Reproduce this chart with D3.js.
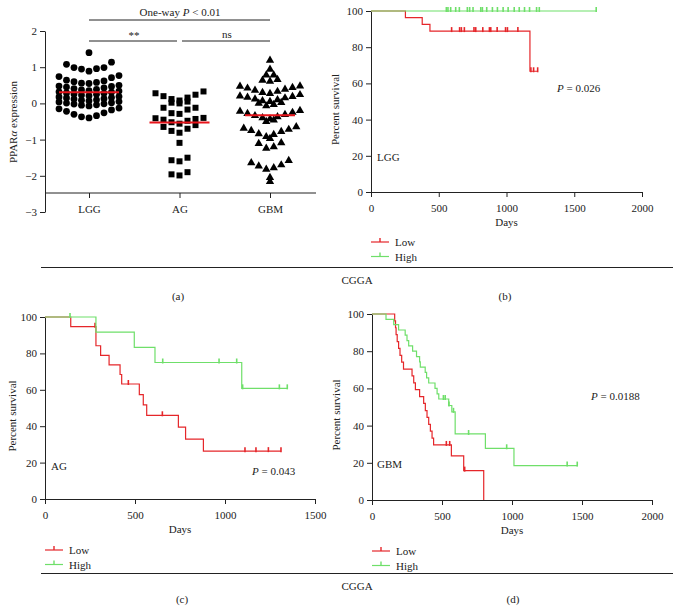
<!DOCTYPE html>
<html><head><meta charset="utf-8">
<script src="https://cdn.jsdelivr.net/npm/d3@7"></script>
<style>
body{margin:0;background:#fff;}
svg{display:block;font-family:"Liberation Serif","Times New Roman",serif;}
text{fill:#222;font-size:11px;}
</style></head>
<body><svg id="c" width="680" height="611"></svg>
<script>
// ---------- DATA ----------
const groups = ["LGG", "AG", "GBM"];
const lggValues = [1.40,
  1.14, 1.08, 0.99, 0.99, 0.96, 0.95, 0.89,
  0.77, 0.74, 0.71, 0.64, 0.62, 0.60, 0.58, 0.56, 0.55,
  0.50, 0.48, 0.47, 0.45, 0.43, 0.41, 0.39, 0.37, 0.35,
  0.34, 0.32, 0.31, 0.29, 0.28, 0.26, 0.25, 0.23, 0.21,
  0.19, 0.18, 0.16, 0.15, 0.13, 0.12, 0.10, 0.09, 0.07,
  0.05, 0.04, 0.02, 0.01, -0.01, -0.02, -0.04, -0.05, -0.07,
  -0.13, -0.15, -0.18, -0.22, -0.26, -0.30, -0.34, -0.37, -0.40];
const agValues = [0.33, 0.28, 0.24, 0.20, 0.16, 0.12, 0.08, 0.05, 0.02, 0.00,
  -0.12, -0.12, -0.17, -0.27, -0.29,
  -0.40, -0.41, -0.43, -0.45, -0.48, -0.52, -0.56, -0.60, -0.65, -0.70, -0.76, -0.81,
  -1.09,
  -1.50, -1.57, -1.60,
  -1.90, -1.96, -1.99];
const gbmValues = [1.19, 0.94, 0.78, 0.78, 0.66, 0.64, 0.61,
  0.48, 0.47, 0.44, 0.42, 0.39, 0.36, 0.33, 0.30, 0.27, 0.24, 0.20,
  0.19, 0.17, 0.15, 0.12, 0.10, 0.07, 0.05, 0.02, 0.00, -0.03, -0.07,
  -0.20, -0.22, -0.25, -0.28, -0.31, -0.34, -0.37, -0.40, -0.43, -0.46, -0.50,
  -0.65, -0.69, -0.72, -0.75, -0.78, -0.84, -0.86, -0.92,
  -0.97, -1.09, -1.11, -1.20, -1.24,
  -1.58, -1.64, -1.70, -1.73, -1.78, -1.82,
  -2.05, -2.16];
const exprTicks = [2, 1, 0, -1, -2, -3];
const survTicks = [0, 20, 40, 60, 80, 100];
const daysTicks2000 = [0, 500, 1000, 1500, 2000];
const daysTicks1500 = [0, 500, 1000, 1500];

// Panel (b) LGG
const bLowTimes = [0, 254, 378, 435, 1173];
const bLowSurv = [100, 96.3, 92.6, 88.9, 66.7];
const bLowEnd = 1230;
const bLowCensor = [595, 654, 667, 689, 760, 773, 825, 874, 884, 931, 993, 1007, 1084, 1180, 1200, 1230];
const bHighTimes = [0];
const bHighSurv = [100];
const bHighEnd = 1662;
const bHighCensor = [556, 568, 588, 625, 652, 711, 728, 753, 810, 822, 854, 896, 933, 975, 1012, 1057, 1094, 1133, 1170, 1222, 1242, 1662];

// Panel (c) AG
const cLowTimes = [0, 143, 283, 309, 356, 417, 426, 524, 546, 565, 741, 781, 880];
const cLowSurv = [100, 94.7, 84.2, 78.9, 73.7, 68.4, 63.2, 57.4, 51.7, 46.0, 39.5, 32.9, 26.3];
const cLowEnd = 1311;
const cLowCensor = [278, 463, 652, 1111, 1172, 1241, 1311];
const cHighTimes = [0, 283, 496, 611, 1093];
const cHighSurv = [100, 91.7, 83.3, 75.0, 60.8];
const cHighEnd = 1346;
const cHighCensor = [139, 654, 967, 1065, 1098, 1302, 1346];

// Panel (d) GBM
const dLowTimes = [0, 162, 168, 172, 180, 190, 200, 212, 225, 286, 298, 310, 340, 369, 381, 393, 405, 417, 429, 440, 567, 655, 798];
const dLowSurv = [100, 96.3, 92.6, 88.9, 85.2, 81.5, 77.8, 74.1, 70.4, 66.7, 63.0, 59.3, 55.6, 51.9, 48.1, 44.4, 40.7, 37.0, 33.3, 29.6, 23.7, 15.8, 0];
const dLowEnd = 798;
const dLowCensor = [531, 555, 662];
const dHighTimes = [0, 100, 155, 190, 237, 250, 262, 290, 318, 340, 345, 380, 390, 405, 450, 465, 477, 548, 570, 594, 810, 1014];
const dHighSurv = [100, 97.1, 94.3, 91.4, 88.6, 85.7, 82.9, 80.0, 77.1, 74.3, 71.4, 68.6, 65.7, 62.9, 60.0, 57.1, 54.3, 50.8, 47.4, 35.5, 27.8, 18.5];
const dHighEnd = 1466;
const dHighCensor = [510, 523, 550, 582, 690, 962, 1394, 1466];

// ---------- STYLE ----------
const RED = "#e5262a", GREEN = "#6fdf6a", MEANRED = "#e8141b";
const svg = d3.select("#c");
const intFmt = d3.format("d");

// ---------- PANEL (a) ----------
(function(){
  const y = d3.scaleLinear().domain([-3, 2]).range([212, 31]);
  const x = d3.scalePoint().domain(groups).range([89, 270]);
  const g = svg.append("g");
  const ya = g.append("g").attr("transform", "translate(45,0)")
    .call(d3.axisLeft(y).tickValues(exprTicks).tickFormat(intFmt).tickSize(5).tickSizeOuter(0));
  const xa = g.append("g").attr("transform", "translate(0,193)")
    .call(d3.axisBottom(x).tickSize(5).tickSizeOuter(0));
  xa.select(".domain").remove();
  g.append("line").attr("x1", 45).attr("x2", 316).attr("y1", 193).attr("y2", 193).attr("stroke", "#222");
  [ya, xa].forEach(a => { a.selectAll("text").style("font-family", "Liberation Serif").style("font-size", "11px").attr("fill", "#222");
    a.selectAll("line,path").attr("stroke", "#222"); });
  xa.selectAll("text").attr("dy", "1.1em");

  // GraphPad-like scatter: descending sweep into rows, lowest value of a row at its centre
  function swarm(values, cx, spacing, gap, range, cap) {
    const s = values.slice().sort((a, b) => b - a);
    const bins = []; let cur = [];
    s.forEach(v => {
      if (cur.length && (cur[cur.length - 1] - v > gap || cur[0] - v > range || cur.length >= cap)) { bins.push(cur); cur = []; }
      cur.push(v);
    });
    if (cur.length) bins.push(cur);
    const pts = [];
    bins.forEach(b => {
      const n = b.length;
      b.slice().sort((a, c) => a - c).forEach((v, k) => {
        let off;
        if (n % 2 === 1) { const m = Math.ceil(k / 2); off = k === 0 ? 0 : (k % 2 ? -m : m); }
        else { const m = Math.floor(k / 2) + 0.5; off = k % 2 ? m : -m; }
        pts.push({ v, x: cx + off * spacing });
      });
    });
    return pts;
  }
  const sets = [
    { vals: lggValues, sym: d3.symbolCircle, size: 36, sp: 7.5, gap: 0.1, range: 0.3, cap: 9, half: 30 },
    { vals: agValues, sym: d3.symbolSquare, size: 36, sp: 8, gap: 0.1, range: 0.45, cap: 7, half: 30 },
    { vals: gbmValues, sym: d3.symbolTriangle, size: 30, sp: 7.5, gap: 0.1, range: 0.3, cap: 9, half: 25 }
  ];
  sets.forEach((st, i) => {
    const pts = swarm(st.vals, x(groups[i]), st.sp, st.gap, st.range, st.cap);
    g.selectAll(null).data(pts).enter().append("path")
      .attr("d", d3.symbol().type(st.sym).size(st.size))
      .attr("transform", d => `translate(${d.x},${y(d.v)})`)
      .attr("fill", "#000");
    const m = d3.mean(st.vals);
    g.append("line").attr("x1", x(groups[i]) - st.half).attr("x2", x(groups[i]) + st.half)
      .attr("y1", y(m)).attr("y2", y(m)).attr("stroke", MEANRED).attr("stroke-width", 2);
  });
  // significance
  g.append("text").attr("x", 180).attr("y", 16).attr("text-anchor", "middle")
    .html('One-way <tspan font-style="italic">P</tspan> &lt; 0.01');
  g.append("line").attr("x1", 89).attr("x2", 270).attr("y1", 20).attr("y2", 20).attr("stroke", "#222");
  g.append("text").attr("x", 134).attr("y", 39).attr("text-anchor", "middle").text("**");
  g.append("line").attr("x1", 89).attr("x2", 177).attr("y1", 41).attr("y2", 41).attr("stroke", "#222");
  g.append("text").attr("x", 227).attr("y", 38).attr("text-anchor", "middle").text("ns");
  g.append("line").attr("x1", 182).attr("x2", 270).attr("y1", 41).attr("y2", 41).attr("stroke", "#222");
  g.append("text").attr("transform", "translate(17,122) rotate(-90)").attr("text-anchor", "middle")
    .html('PPAR<tspan font-style="italic">α</tspan> expression');
})();

// ---------- KM PANELS ----------
function km(cfg) {
  const x = d3.scaleLinear().domain([0, cfg.xmax]).range([cfg.x0, cfg.x1]);
  const y = d3.scaleLinear().domain([0, 100]).range([cfg.y0, cfg.y1]);
  const g = svg.append("g");
  const ya = g.append("g").attr("transform", `translate(${cfg.x0},0)`)
    .call(d3.axisLeft(y).tickValues(survTicks).tickSize(5).tickSizeOuter(0));
  const xa = g.append("g").attr("transform", `translate(0,${cfg.y0})`)
    .call(d3.axisBottom(x).tickValues(cfg.xticks).tickFormat(intFmt).tickSize(5).tickSizeOuter(0));
  [ya, xa].forEach(a => { a.selectAll("text").style("font-family", "Liberation Serif").style("font-size", "11px").attr("fill", "#222");
    a.selectAll("line,path").attr("stroke", "#222"); });
  xa.selectAll("text").attr("dy", "1.05em");
  const line = d3.line().x(d => x(d[0])).y(d => y(d[1])).curve(d3.curveStepAfter);
  cfg.series.forEach(s => {
    const pts = s.times.map((t, i) => [t, s.surv[i]]);
    pts.push([s.end, s.surv[s.surv.length - 1]]);
    g.append("path").attr("d", line(pts)).attr("fill", "none").attr("stroke", s.color).attr("stroke-width", 1.2);
    const at = t => { let v = s.surv[0]; s.times.forEach((tt, i) => { if (tt <= t) v = s.surv[i]; }); return v; };
    g.selectAll(null).data(s.censor).enter().append("line")
      .attr("x1", d => x(d)).attr("x2", d => x(d))
      .attr("y1", d => y(at(d)) - 4).attr("y2", d => y(at(d)) + 1)
      .attr("stroke", s.color).attr("stroke-width", 1.6);
  });
  g.append("text").attr("x", (cfg.x0 + cfg.x1) / 2).attr("y", cfg.y0 + 34).attr("text-anchor", "middle").text("Days");
  g.append("text").attr("transform", `translate(${cfg.ylabX},${(cfg.y0 + cfg.y1) / 2 + 8}) rotate(-90)`).attr("text-anchor", "middle").text("Percent survival");
  g.append("text").attr("x", cfg.tagX).attr("y", cfg.tagY).text(cfg.tag);
  g.append("text").attr("x", cfg.pX).attr("y", cfg.pY).html(`<tspan font-style="italic">P</tspan> = ${cfg.p}`);
  // legend
  cfg.series.forEach((s, i) => {
    const ly = cfg.legY + i * 14.5;
    g.append("line").attr("x1", cfg.x0).attr("x2", cfg.x0 + 18).attr("y1", ly).attr("y2", ly).attr("stroke", s.color).attr("stroke-width", 1.2);
    g.append("line").attr("x1", cfg.x0 + 9).attr("x2", cfg.x0 + 9).attr("y1", ly - 4).attr("y2", ly).attr("stroke", s.color).attr("stroke-width", 1.4);
    g.append("text").attr("x", cfg.x0 + 24).attr("y", ly + 4).text(s.name);
  });
}
km({ x0: 371, x1: 642, y0: 192, y1: 11, xmax: 2000, xticks: daysTicks2000, ylabX: 339, tag: "LGG", tagX: 377, tagY: 161, p: "0.026", pX: 557, pY: 92, legY: 242,
  series: [{ name: "Low", color: RED, times: bLowTimes, surv: bLowSurv, end: bLowEnd, censor: bLowCensor },
           { name: "High", color: GREEN, times: bHighTimes, surv: bHighSurv, end: bHighEnd, censor: bHighCensor }] });
km({ x0: 45, x1: 315, y0: 499, y1: 317, xmax: 1500, xticks: daysTicks1500, ylabX: 16, tag: "AG", tagX: 51, tagY: 470, p: "0.043", pX: 252, pY: 475, legY: 550,
  series: [{ name: "Low", color: RED, times: cLowTimes, surv: cLowSurv, end: cLowEnd, censor: cLowCensor },
           { name: "High", color: GREEN, times: cHighTimes, surv: cHighSurv, end: cHighEnd, censor: cHighCensor }] });
km({ x0: 372, x1: 652, y0: 500, y1: 314, xmax: 2000, xticks: daysTicks2000, ylabX: 340, tag: "GBM", tagX: 377, tagY: 468, p: "0.0188", pX: 591, pY: 400, legY: 551,
  series: [{ name: "Low", color: RED, times: dLowTimes, surv: dLowSurv, end: dLowEnd, censor: dLowCensor },
           { name: "High", color: GREEN, times: dHighTimes, surv: dHighSurv, end: dHighEnd, censor: dHighCensor }] });

// ---------- FRAME TEXT ----------
svg.append("line").attr("x1", 41).attr("x2", 673).attr("y1", 267.5).attr("y2", 267.5).attr("stroke", "#222");
svg.append("line").attr("x1", 41).attr("x2", 673).attr("y1", 573.5).attr("y2", 573.5).attr("stroke", "#222");
svg.append("text").attr("x", 357).attr("y", 284).attr("text-anchor", "middle").text("CGGA");
svg.append("text").attr("x", 357).attr("y", 590).attr("text-anchor", "middle").text("CGGA");
[["(a)", 178, 300], ["(b)", 505, 300], ["(c)", 182, 603], ["(d)", 513, 603]].forEach(d =>
  svg.append("text").attr("x", d[1]).attr("y", d[2]).attr("text-anchor", "middle").text(d[0]));
</script></body></html>
